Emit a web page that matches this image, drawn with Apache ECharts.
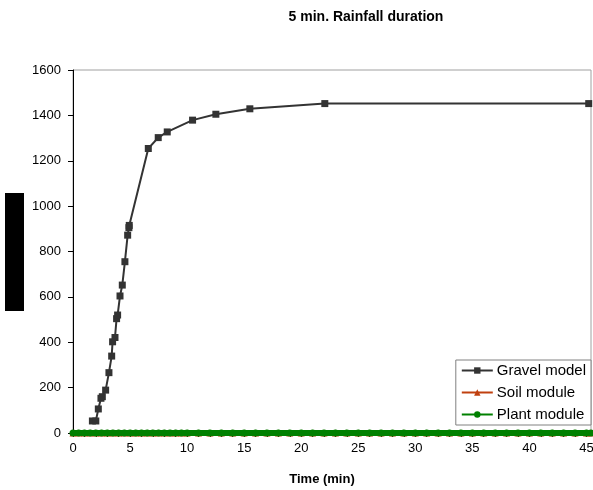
<!DOCTYPE html>
<html><head><meta charset="utf-8">
<script src="https://cdn.jsdelivr.net/npm/echarts@6/dist/echarts.min.js"></script>
<style>html,body{margin:0;padding:0;background:#fff}#c{width:593px;height:490px}</style>
</head><body><div id="c"></div>
<script>
const titleText = '5 min. Rainfall duration';
const xAxisTitle = 'Time (min)';
const seriesNames = ['Gravel model', 'Soil module', 'Plant module'];
const gravelTime = [1.7, 2.0, 2.22, 2.45, 2.57, 2.86, 3.15, 3.39, 3.47, 3.68, 3.82, 3.91, 4.12, 4.32, 4.55, 4.79, 4.9, 4.93, 6.6, 7.47, 8.26, 10.48, 12.52, 15.5, 22.07, 45.2];
const gravelFlow = [53, 53, 106, 153, 160, 189, 266, 339, 402, 421, 504, 520, 604, 652, 755, 872, 905, 915, 1254, 1302, 1327, 1379, 1405, 1429, 1452, 1452];
const moduleTime = [0, 0.5, 1, 1.5, 2, 2.5, 3, 3.5, 4, 4.5, 5, 5.5, 6, 6.5, 7, 7.5, 8, 8.5, 9, 9.5, 10, 11, 12, 13, 14, 15, 16, 17, 18, 19, 20, 21, 22, 23, 24, 25, 26, 27, 28, 29, 30, 31, 32, 33, 34, 35, 36, 37, 38, 39, 40, 41, 42, 43, 44, 45, 45.4];
const soilFlow = [0, 0, 0, 0, 0, 0, 0, 0, 0, 0, 0, 0, 0, 0, 0, 0, 0, 0, 0, 0, 0, 0, 0, 0, 0, 0, 0, 0, 0, 0, 0, 0, 0, 0, 0, 0, 0, 0, 0, 0, 0, 0, 0, 0, 0, 0, 0, 0, 0, 0, 0, 0, 0, 0, 0, 0, 0];
const plantFlow = [0, 0, 0, 0, 0, 0, 0, 0, 0, 0, 0, 0, 0, 0, 0, 0, 0, 0, 0, 0, 0, 0, 0, 0, 0, 0, 0, 0, 0, 0, 0, 0, 0, 0, 0, 0, 0, 0, 0, 0, 0, 0, 0, 0, 0, 0, 0, 0, 0, 0, 0, 0, 0, 0, 0, 0, 0];

const zip = (a, b) => a.map((v, i) => [v, b[i]]);
const chart = echarts.init(document.getElementById('c'), null, {renderer: 'canvas'});
const font = 'Liberation Sans, Arial, sans-serif';
chart.setOption({
  animation: false,
  backgroundColor: '#fff',
  grid: {left: 73, top: 70, right: 2, bottom: 57, show: true, borderColor: '#a0a0a0', borderWidth: 1,
    backgroundColor: 'transparent', containLabel: false, outerBoundsMode: 'none'},
  legend: {
    orient: 'vertical', right: 2, top: 360, itemGap: 7, itemWidth: 31, itemHeight: 8,
    backgroundColor: '#fff', borderColor: '#808080', borderWidth: 1, padding: [3, 5, 3, 5],
    textStyle: {fontFamily: font, fontSize: 15, color: '#000', padding: [0, 0, 0, -1]},
    data: seriesNames
  },
  xAxis: {
    type: 'value', min: 0, max: 45.4, interval: 1,
    axisLine: {show: true, onZero: false, lineStyle: {color: '#000', width: 1}},
    axisTick: {show: true, length: 4, lineStyle: {color: '#000'}},
    splitLine: {show: false},
    axisLabel: {fontFamily: font, fontSize: 13, color: '#000', margin: 9, showMaxLabel: false,
      formatter: v => (Math.abs(v % 5) < 1e-6 ? String(Math.round(v)) : '')}
  },
  yAxis: {
    type: 'value', min: 0, max: 1600, interval: 200,
    axisLine: {show: true, lineStyle: {color: '#000', width: 1}},
    axisTick: {show: true, length: 5, lineStyle: {color: '#000'}},
    splitLine: {show: false},
    axisLabel: {fontFamily: font, fontSize: 13, color: '#000', margin: 12, formatter: v => String(v)}
  },
  graphic: [
    {type: 'rect', shape: {x: 5, y: 193, width: 19, height: 118}, style: {fill: '#000'}},
    {type: 'text', style: {x: 366, y: 17, text: titleText, textAlign: 'center', textVerticalAlign: 'middle',
      font: 'bold 14px Liberation Sans, Arial, sans-serif', fill: '#000'}},
    {type: 'text', style: {x: 322, y: 479, text: xAxisTitle, textAlign: 'center', textVerticalAlign: 'middle',
      font: 'bold 13px Liberation Sans, Arial, sans-serif', fill: '#000'}}
  ],
  series: [
    {name: seriesNames[1], type: 'line', data: zip(moduleTime, soilFlow), symbol: 'triangle', symbolSize: 7,
      itemStyle: {color: '#c0400f'}, lineStyle: {color: '#c0400f', width: 2}, z: 2},
    {name: seriesNames[2], type: 'line', data: zip(moduleTime, plantFlow), symbol: 'circle', symbolSize: 7,
      itemStyle: {color: '#008000'}, lineStyle: {color: '#008000', width: 6}, z: 3},
    {name: seriesNames[0], type: 'line', data: zip(gravelTime, gravelFlow), symbol: 'rect', symbolSize: 7,
      itemStyle: {color: '#333333'}, lineStyle: {color: '#333333', width: 2}, z: 4}
  ]
});
</script></body></html>
